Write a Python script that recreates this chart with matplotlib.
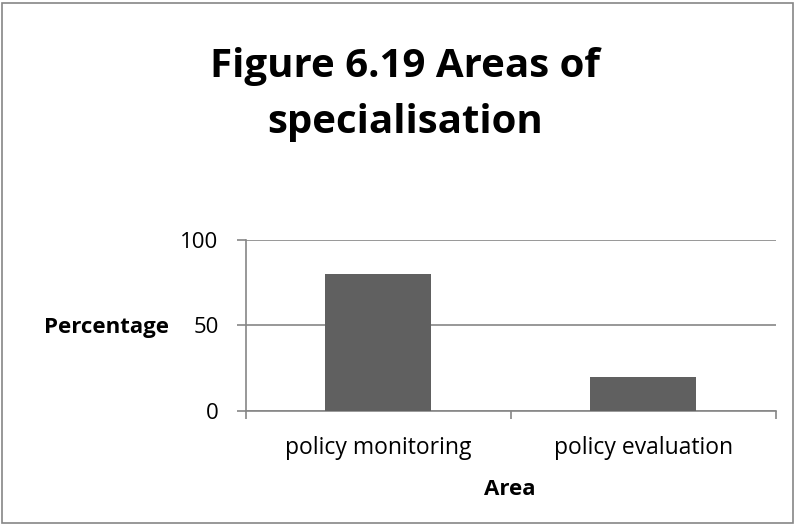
import matplotlib.pyplot as plt
from matplotlib.patches import Rectangle

# data
areas = ['policy monitoring', 'policy evaluation']
percentages = [80, 20]
y_ticks = [0, 50, 100]

plt.rcParams['font.family'] = ['Open Sans', 'DejaVu Sans']

fig = plt.figure(figsize=(7.95, 5.26), dpi=100)
ax = fig.add_axes([0.309, 0.2192, 0.6667, 0.3245])

grey = '#868686'
x = range(len(areas))
ax.bar(x, percentages, width=0.4, color='#606060', zorder=3)

ax.set_xlim(-0.5, len(areas) - 0.5)
ax.set_ylim(0, 100)
ax.set_yticks(y_ticks)
ax.set_yticklabels([str(v) for v in y_ticks], fontsize=16)
ax.set_xticks(list(x))
ax.set_xticklabels(areas, fontsize=16.5)
ax.set_xticks([-0.5, 0.5, 1.5], minor=True)
ax.tick_params(axis='x', which='major', length=0, pad=18)
ax.tick_params(axis='x', which='minor', length=6, color=grey, width=1.2)
ax.tick_params(axis='y', length=6.5, color=grey, width=1.2, pad=13)

ax.yaxis.grid(True, color=grey, linewidth=1.2, zorder=0)
for s in ['top', 'right']:
    ax.spines[s].set_visible(False)
for s in ['left', 'bottom']:
    ax.spines[s].set_color(grey)
    ax.spines[s].set_linewidth(1.2)

fig.text(510 / 795, 1 - 495 / 526, 'Area', fontsize=16, fontweight='bold',
         ha='center', va='baseline')
fig.text(106 / 795, 1 - 333 / 526, 'Percentage', fontsize=16, fontweight='bold',
         ha='center', va='baseline')

fig.text(405 / 795, 1 - 77 / 526, 'Figure 6.19 Areas of', fontsize=29,
         fontweight='bold', ha='center', va='baseline')
fig.text(405 / 795, 1 - 133 / 526, 'specialisation', fontsize=29,
         fontweight='bold', ha='center', va='baseline')

# outer frame of the chart
fig.patches.append(Rectangle((0.003, 0.005), 0.994, 0.99, transform=fig.transFigure,
                             fill=False, edgecolor=grey, linewidth=1.2))

fig.savefig('out.png', dpi=100)
